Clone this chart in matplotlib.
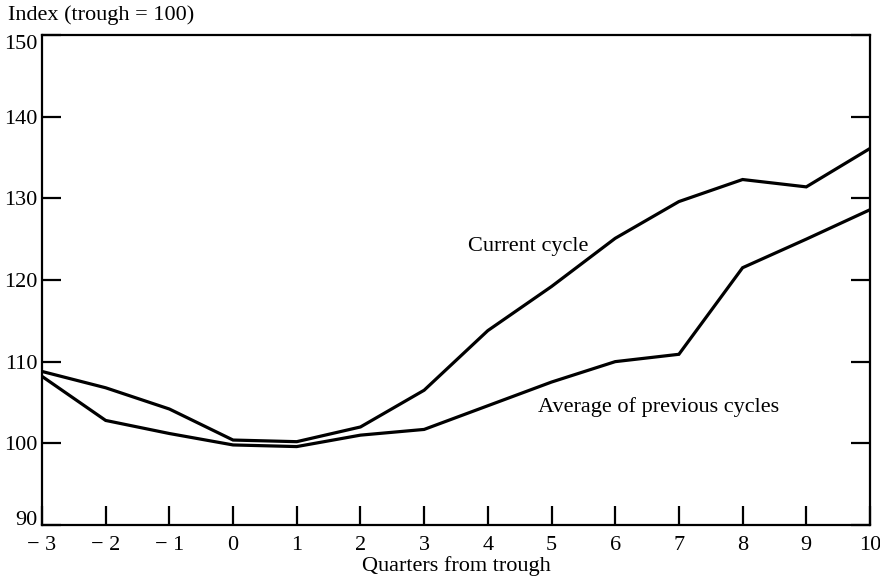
import matplotlib
matplotlib.use("Agg")
import matplotlib.pyplot as plt

quarters = [-3, -2, -1, 0, 1, 2, 3, 4, 5, 6, 7, 8, 9, 10]
current_cycle = [108.8, 106.8, 104.2, 100.4, 100.2, 102.0, 106.5, 113.8, 119.2, 125.1, 129.6, 132.3, 131.4, 136.1]
average_previous = [108.2, 102.8, 101.2, 99.8, 99.6, 101.0, 101.7, 104.6, 107.5, 110.0, 110.9, 121.5, 125.0, 128.6]
x_ticklabels = ["− 3", "− 2", "− 1", "0", "1", "2", "3", "4", "5", "6", "7", "8", "9", "10"]
y_ticks = [90, 100, 110, 120, 130, 140, 150]

plt.rcParams['font.family'] = ['Liberation Serif', 'DejaVu Serif']
FS = 16

fig = plt.figure(figsize=(8.8, 5.79), dpi=100)
ax = fig.add_axes([0.0477, 0.0933, 0.9409, 0.8463])

ax.plot(quarters, current_cycle, color='black', lw=2.3, solid_joinstyle='miter')
ax.plot(quarters, average_previous, color='black', lw=2.3, solid_joinstyle='miter')

ax.set_xlim(-3, 10)
ax.set_ylim(90, 150)
ax.set_xticks(quarters)
ax.set_xticklabels(x_ticklabels)
ax.set_yticks(y_ticks)

for s in ax.spines.values():
    s.set_linewidth(1.6)
    s.set_color('black')

ax.tick_params(axis='both', direction='in', length=14, width=1.6, labelsize=FS, color='black')
ax.tick_params(axis='y', right=True, pad=3)
ax.tick_params(axis='x', pad=8)

ylabels = ax.get_yticklabels()
ylabels[0].set_va('baseline')
ylabels[-1].set_va('top')

ax.set_xlabel("Quarters from trough", fontsize=FS, labelpad=1)

fig.text(8/880, 1 - 15/579, "Index (trough = 100)", fontsize=FS, va='center', ha='left')
fig.text(538/880, 1 - 407/579, "Average of previous cycles", fontsize=FS, va='center', ha='left')
fig.text(468/880, 1 - 246/579, "Current cycle", fontsize=FS, va='center', ha='left')

fig.savefig("out.png", dpi=100)
